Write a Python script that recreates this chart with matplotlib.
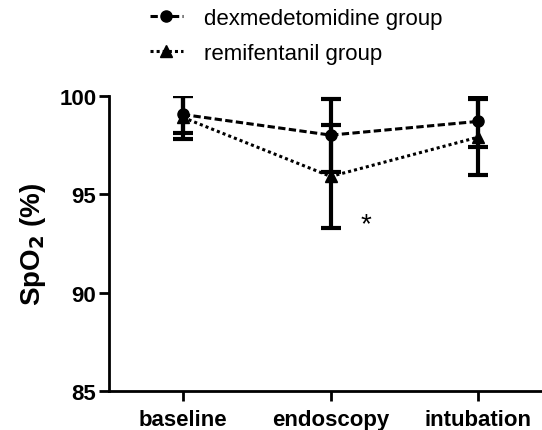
import matplotlib
matplotlib.use("Agg")
import matplotlib.pyplot as plt
from matplotlib.lines import Line2D

plt.rcParams['font.family'] = ['Liberation Sans', 'DejaVu Sans']

categories = ["baseline", "endoscopy", "intubation"]
dex_mean = [99.05, 98.0, 98.7]
dex_sd = [0.95, 1.85, 1.3]
remi_mean = [98.9, 95.9, 97.9]
remi_sd = [1.1, 2.6, 1.95]
yticks = [85, 90, 95, 100]
star_pos = (1.24, 93.45)

fig = plt.figure(figsize=(5.42, 4.31), dpi=100)
ax = fig.add_axes([0.201, 0.0905, 0.81, 0.685])
x = list(range(len(categories)))

dex_ls = (0, (2.4, 1.1))
remi_ls = (0, (1.0, 1.0))

ax.errorbar(x, dex_mean, yerr=dex_sd, color='black', lw=2.2, ls=dex_ls,
            marker='o', ms=8, elinewidth=3, capsize=7, capthick=3)
ax.errorbar(x, remi_mean, yerr=remi_sd, color='black', lw=2.2, ls=remi_ls,
            marker='^', ms=8, elinewidth=3, capsize=7, capthick=3)
ax.text(star_pos[0], star_pos[1], '*', fontsize=20, ha='center', va='center')

ax.set_xlim(-0.5, 2.47)
ax.set_ylim(85, 100)
ax.set_yticks(yticks)
ax.set_yticklabels([str(v) for v in yticks], fontsize=16, fontweight='bold')
ax.set_xticks(x)
ax.set_xticklabels(categories, fontsize=16, fontweight='bold')
ax.spines['top'].set_visible(False)
ax.spines['right'].set_visible(False)
ax.spines['left'].set_linewidth(2)
ax.spines['bottom'].set_linewidth(2)
ax.spines['left'].set_bounds(85, 100)
ax.tick_params(width=2, length=7)
ax.tick_params(axis='x', pad=6)
ax.tick_params(axis='y', pad=2)
ax.set_ylabel(r'SpO$_\mathbf{2}$ (%)', fontsize=20, fontweight='bold', labelpad=8)

handles = [Line2D([], [], color='black', lw=2.2, ls=dex_ls, marker='o', ms=8),
           Line2D([], [], color='black', lw=2.2, ls=remi_ls, marker='^', ms=8)]
labels = ['dexmedetomidine group', 'remifentanil group']
fig.legend(handles, labels, loc='upper left', bbox_to_anchor=(0.265, 0.995),
           frameon=False, fontsize=16, handlelength=1.45, handletextpad=0.95,
           labelspacing=0.65, borderpad=0.1, borderaxespad=0.2)

fig.savefig('out.png', dpi=100)
